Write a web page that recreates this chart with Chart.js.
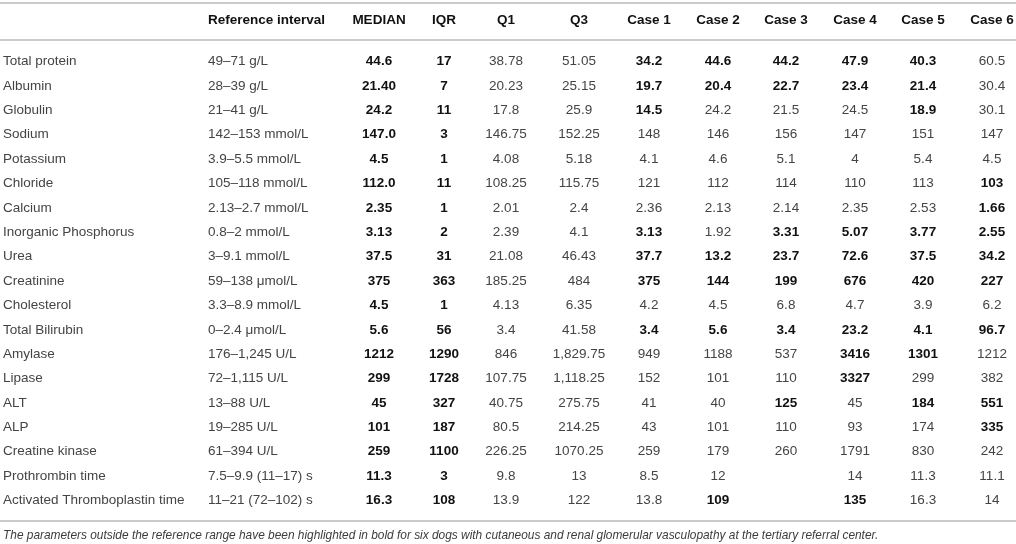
<!DOCTYPE html>
<html>
<head>
<meta charset="utf-8">
<script src="https://cdn.jsdelivr.net/npm/chart.js@4.4.1/dist/chart.umd.min.js"></script>
<style>
html,body{margin:0;padding:0;background:#fff;}
#wrap{width:1016px;height:544px;}
canvas{display:block;}
</style>
</head>
<body>
<div id="wrap"><canvas id="c" width="1016" height="544"></canvas></div>
<script>
// ---------- DATA ----------
const headers = ['', 'Reference interval', 'MEDIAN', 'IQR', 'Q1', 'Q3', 'Case 1', 'Case 2', 'Case 3', 'Case 4', 'Case 5', 'Case 6'];
const rowLabels = ['Total protein', 'Albumin', 'Globulin', 'Sodium', 'Potassium', 'Chloride', 'Calcium', 'Inorganic Phosphorus', 'Urea', 'Creatinine', 'Cholesterol', 'Total Bilirubin', 'Amylase', 'Lipase', 'ALT', 'ALP', 'Creatine kinase', 'Prothrombin time', 'Activated Thromboplastin time'];
const refInterval = ['49–71 g/L', '28–39 g/L', '21–41 g/L', '142–153 mmol/L', '3.9–5.5 mmol/L', '105–118 mmol/L', '2.13–2.7 mmol/L', '0.8–2 mmol/L', '3–9.1 mmol/L', '59–138 μmol/L', '3.3–8.9 mmol/L', '0–2.4 μmol/L', '176–1,245 U/L', '72–1,115 U/L', '13–88 U/L', '19–285 U/L', '61–394 U/L', '7.5–9.9 (11–17) s', '11–21 (72–102) s'];
const median = ['44.6', '21.40', '24.2', '147.0', '4.5', '112.0', '2.35', '3.13', '37.5', '375', '4.5', '5.6', '1212', '299', '45', '101', '259', '11.3', '16.3'];
const iqr = ['17', '7', '11', '3', '1', '11', '1', '2', '31', '363', '1', '56', '1290', '1728', '327', '187', '1100', '3', '108'];
const q1 = ['38.78', '20.23', '17.8', '146.75', '4.08', '108.25', '2.01', '2.39', '21.08', '185.25', '4.13', '3.4', '846', '107.75', '40.75', '80.5', '226.25', '9.8', '13.9'];
const q3 = ['51.05', '25.15', '25.9', '152.25', '5.18', '115.75', '2.4', '4.1', '46.43', '484', '6.35', '41.58', '1,829.75', '1,118.25', '275.75', '214.25', '1070.25', '13', '122'];
const case1 = ['34.2', '19.7', '14.5', '148', '4.1', '121', '2.36', '3.13', '37.7', '375', '4.2', '3.4', '949', '152', '41', '43', '259', '8.5', '13.8'];
const case2 = ['44.6', '20.4', '24.2', '146', '4.6', '112', '2.13', '1.92', '13.2', '144', '4.5', '5.6', '1188', '101', '40', '101', '179', '12', '109'];
const case3 = ['44.2', '22.7', '21.5', '156', '5.1', '114', '2.14', '3.31', '23.7', '199', '6.8', '3.4', '537', '110', '125', '110', '260', '', ''];
const case4 = ['47.9', '23.4', '24.5', '147', '4', '110', '2.35', '5.07', '72.6', '676', '4.7', '23.2', '3416', '3327', '45', '93', '1791', '14', '135'];
const case5 = ['40.3', '21.4', '18.9', '151', '5.4', '113', '2.53', '3.77', '37.5', '420', '3.9', '4.1', '1301', '299', '184', '174', '830', '11.3', '16.3'];
const case6 = ['60.5', '30.4', '30.1', '147', '4.5', '103', '1.66', '2.55', '34.2', '227', '6.2', '96.7', '1212', '382', '551', '335', '242', '11.1', '14'];
// bold = outside reference range (1 = bold)
const case1Bold = [1,1,1,0,0,0,0,1,1,1,0,1,0,0,0,0,0,0,0];
const case2Bold = [1,1,0,0,0,0,0,0,1,1,0,1,0,0,0,0,0,0,1];
const case3Bold = [1,1,0,0,0,0,0,1,1,1,0,1,0,0,1,0,0,0,0];
const case4Bold = [1,1,0,0,0,0,0,1,1,1,0,1,1,1,0,0,0,0,1];
const case5Bold = [1,1,1,0,0,0,0,1,1,1,0,1,1,0,1,0,0,0,0];
const case6Bold = [0,0,0,0,0,1,1,1,1,1,0,1,0,0,1,1,0,0,0];
const caption = 'The parameters outside the reference range have been highlighted in bold for six dogs with cutaneous and renal glomerular vasculopathy at the tertiary referral center.';

// ---------- LAYOUT (not data) ----------
const colWidths = [205, 137, 74, 56, 68, 78, 62, 76, 60, 78, 58, 80];
const colAlign = ['left', 'left', 'center', 'center', 'center', 'center', 'center', 'center', 'center', 'center', 'center', 'center'];
const leftPad = 3;
const rowPitch = 24.39, firstRowPx = 61, canvasH = 544;
const headerRow = -1.68, ruleRows = [-2.38, -0.86, 18.86], captionRow = 19.43;

const colEdges = [0];
colWidths.forEach(w => colEdges.push(colEdges[colEdges.length - 1] + w));
const colAnchor = colAlign.map((a, i) => a === 'left' ? colEdges[i] + leftPad : (colEdges[i] + colEdges[i + 1]) / 2);

const allCols = [rowLabels, refInterval, median, iqr, q1, q3, case1, case2, case3, case4, case5, case6];
const allBold = [
  rowLabels.map(() => 0), refInterval.map(() => 0),
  median.map(() => 1), iqr.map(() => 1), q1.map(() => 0), q3.map(() => 0),
  case1Bold, case2Bold, case3Bold, case4Bold, case5Bold, case6Bold
];

const FONT = "'Liberation Sans', Arial, Helvetica, sans-serif";
const datasets = [];
allCols.forEach((col, ci) => {
  datasets.push({
    label: headers[ci] || 'Parameter',
    data: col.map((v, ri) => ({ x: colAnchor[ci], y: ri })),
    texts: col, bolds: allBold[ci], align: colAlign[ci], kind: 'cell'
  });
});
datasets.push({
  label: 'header',
  data: headers.map((h, ci) => ({ x: colAnchor[ci], y: headerRow })),
  texts: headers, bolds: headers.map(() => 1), align: null, aligns: colAlign, kind: 'header'
});
datasets.push({
  label: 'caption',
  data: [{ x: leftPad, y: captionRow }],
  texts: [caption], bolds: [0], align: 'left', kind: 'caption'
});

const tablePlugin = {
  id: 'tableText',
  afterDatasetsDraw(chart) {
    const ctx = chart.ctx, xs = chart.scales.x, ys = chart.scales.y;
    ctx.save();
    ctx.strokeStyle = '#bababa';
    ctx.lineWidth = 1.5;
    ruleRows.forEach(v => {
      const y = ys.getPixelForValue(v);
      ctx.beginPath(); ctx.moveTo(0, y); ctx.lineTo(chart.width, y); ctx.stroke();
    });
    ctx.textBaseline = 'middle';
    chart.data.datasets.forEach((ds, di) => {
      const meta = chart.getDatasetMeta(di);
      meta.data.forEach((el, i) => {
        const t = ds.texts[i];
        if (!t) return;
        const b = ds.bolds[i];
        ctx.textAlign = ds.align || ds.aligns[i];
        if (ds.kind === 'caption') {
          ctx.font = 'italic 11.9px ' + FONT;
          ctx.fillStyle = '#3c3c3c';
        } else {
          ctx.font = (b ? 'bold ' : '') + '13.5px ' + FONT;
          ctx.fillStyle = b ? '#111111' : '#444444';
        }
        ctx.fillText(t, el.x, el.y + 0.5);
      });
    });
    ctx.restore();
  }
};

const yMin = -firstRowPx / rowPitch;
const yMax = yMin + canvasH / rowPitch;

new Chart(document.getElementById('c'), {
  type: 'scatter',
  data: { datasets },
  options: {
    responsive: false,
    animation: false,
    events: [],
    layout: { padding: 0 },
    elements: { point: { radius: 0, hoverRadius: 0 } },
    plugins: { legend: { display: false }, tooltip: { enabled: false } },
    scales: {
      x: { type: 'linear', display: false, min: 0, max: 1016 },
      y: { type: 'linear', display: false, reverse: true, min: yMin, max: yMax }
    }
  },
  plugins: [tablePlugin]
});
</script>
</body>
</html>
